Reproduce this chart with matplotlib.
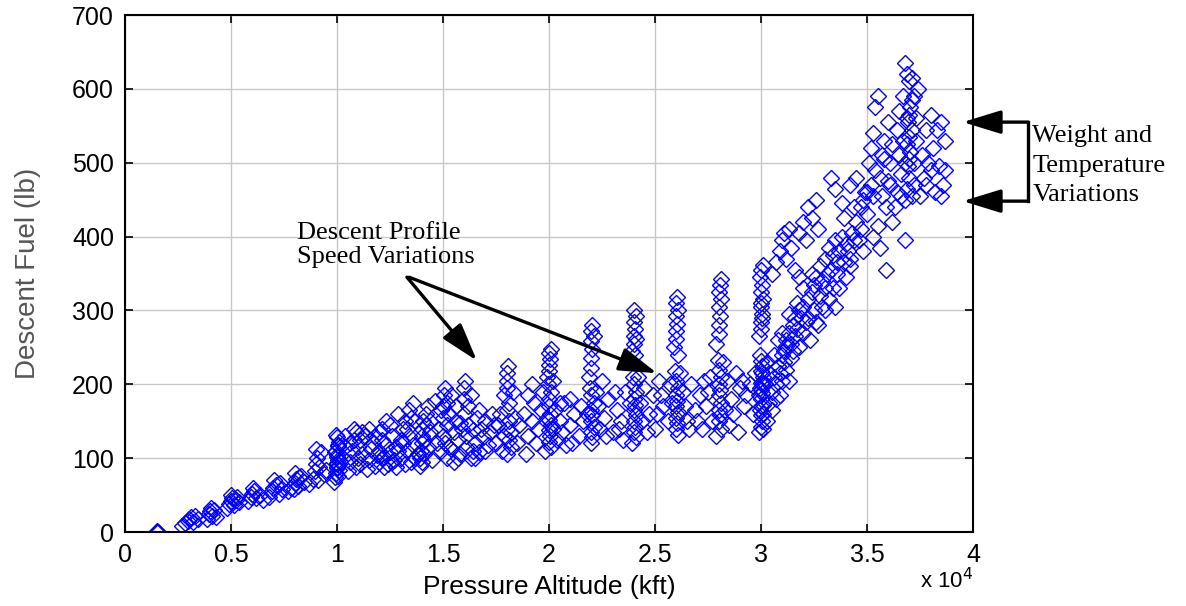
import numpy as np
import matplotlib
matplotlib.use("Agg")
import matplotlib.pyplot as plt

# (pressure altitude ft, descent fuel lb), by region
pts_low = [
    (1500, 0), (1500, 0), (1550, 0), (1500, 1),
    (2700, 8), (2850, 12), (2950, 15), (3000, 18), (3100, 20), (3200, 14), (3300, 22), (3450, 17),
    (3850, 18), (3950, 24), (4000, 28), (4100, 22), (4200, 30), (4300, 20), (4050, 32),
    (4800, 32), (4900, 38), (5000, 42), (5050, 46), (5150, 36), (5250, 44), (5400, 40), (5000, 50), (5300, 48),
    (5800, 42), (5950, 48), (6000, 52), (6100, 56), (6200, 46), (6350, 50), (6500, 44), (6050, 60),
    (6800, 48), (6950, 55), (7000, 60), (7100, 64), (7250, 52), (7400, 58), (7050, 70), (7300, 66),
    (7700, 55), (7850, 60), (8000, 66), (8050, 72), (8150, 62), (8300, 76), (8450, 68), (8000, 80), (7950, 58), (8200, 74),
    (8700, 65), (8850, 72), (8950, 82), (9000, 92), (9050, 100), (9150, 88), (9250, 108), (9400, 78), (9500, 84), (9000, 112), (9100, 70),
    (9850, 68), (9900, 74), (9950, 80), (10000, 86), (10000, 92), (10050, 98), (10000, 104), (9950, 110),
    (10050, 116), (10100, 122), (10000, 128), (9950, 132), (10050, 76), (10000, 88), (10150, 96), (10000, 102),
    (9900, 108), (10050, 118), (10100, 84), (10000, 94),
]

pts_mid = [
    (10500, 82), (10600, 95), (10700, 110), (10800, 125), (10900, 88), (11000, 100), (11000, 115), (11100, 92),
    (11200, 105), (11300, 130), (11400, 85), (11500, 98), (11600, 112), (11700, 120), (11800, 90), (11900, 104),
    (10800, 140), (11200, 135),
    (12000, 95), (12000, 110), (12100, 125), (12100, 140), (12200, 88), (12200, 102), (12300, 118), (12300, 150),
    (12400, 92), (12500, 108), (12600, 130), (12700, 98), (12800, 115), (12900, 160), (12000, 135), (12500, 145), (12800, 88),
    (13000, 100), (13100, 120), (13100, 140), (13200, 92), (13300, 110), (13400, 165), (13400, 130), (13500, 95),
    (13600, 118), (13700, 150), (13800, 105), (13900, 90), (13900, 100), (13950, 110), (14000, 120), (14000, 130),
    (14000, 140), (14050, 150), (14000, 95), (14100, 105), (14100, 125), (14200, 160), (14300, 115), (14400, 135),
    (14500, 98), (14600, 178), (14700, 120), (13600, 175), (14200, 145),
    (14900, 110), (15000, 130), (15000, 155), (15000, 170), (15050, 185), (15100, 195), (15100, 120), (15200, 100),
    (15200, 145), (15300, 160), (15400, 113), (15500, 135), (15500, 95), (15600, 150), (15700, 125), (15800, 105),
    (15900, 140), (16000, 180), (16000, 195), (16050, 205), (16000, 160), (16100, 130), (16100, 115), (16200, 145),
    (16300, 100), (16400, 138), (16500, 120), (16600, 155), (16700, 108), (16800, 140), (16900, 128), (17000, 150),
    (17100, 118), (17200, 135), (15300, 115), (15800, 148), (16500, 100),
    (10300, 100), (10400, 115), (10400, 130), (10600, 120), (10900, 135), (11100, 125), (11500, 140), (11800, 130),
    (12100, 100), (12600, 95), (12900, 110), (13000, 125), (13200, 150), (13300, 140), (13500, 155), (13700, 100),
    (14300, 170), (14400, 150), (14800, 140), (14900, 165), (15200, 175), (15400, 185), (15600, 170), (15700, 100),
    (16200, 170), (16300, 185), (16400, 110), (16700, 165), (17000, 110), (17300, 160), (17400, 145),
]

pts_18k = [
    (17500, 120), (17600, 145), (17700, 160), (17800, 110), (17900, 130), (17900, 185), (18000, 195), (18000, 205),
    (18000, 215), (18050, 225), (18100, 175), (18000, 165), (18100, 150), (18000, 140), (18100, 125), (18200, 115),
    (18000, 105), (18200, 135), (18300, 190), (18400, 155), (18500, 120), (18600, 145), (18800, 160), (19000, 130),
    (19200, 150), (19400, 120), (19500, 140), (19600, 165), (19800, 110), (19300, 175), (18900, 105),
    (19000, 185), (19200, 200), (19700, 190),
]

pts_20k = [
    (19900, 210), (20000, 218), (20000, 226), (20050, 234), (20000, 242), (20100, 248), (19950, 200), (20100, 190),
    (20000, 180), (20000, 170), (20050, 160), (20000, 152), (20100, 145), (20000, 138), (20050, 130), (20000, 122),
    (20100, 115), (19900, 155), (20200, 140), (20300, 165), (20400, 125), (20500, 150), (20600, 135), (20700, 175),
    (20800, 118), (21000, 145), (21200, 160), (21400, 130), (21000, 180),
    (20200, 205), (20500, 175), (21100, 120), (21500, 170), (21600, 150),
]

pts_22k = [
    (21900, 210), (22000, 222), (22000, 235), (22050, 248), (22000, 258), (22100, 265), (22000, 272), (22050, 280),
    (21950, 195), (22000, 185), (22100, 175), (22000, 165), (22050, 158), (22000, 150), (22100, 142), (22000, 135),
    (22050, 128), (22000, 120), (21800, 160), (22300, 170), (22400, 140), (22600, 155), (22800, 180), (23000, 135),
    (23200, 165), (23400, 150), (23600, 190), (23500, 125),
    (22200, 190), (22500, 205), (22700, 130), (23100, 190), (23300, 140), (23800, 175),
]

pts_24k = [
    (23900, 245), (24000, 255), (24000, 265), (24050, 275), (24000, 285), (24100, 292), (24000, 300), (24050, 240),
    (24100, 262), (23950, 210), (24000, 200), (24100, 190), (24000, 180), (24050, 172), (24000, 165), (24100, 158),
    (24000, 150), (24050, 142), (24000, 135), (24100, 128), (23900, 120), (24300, 175), (24500, 195), (24700, 160),
    (24900, 185), (25200, 205), (25000, 140), (25400, 170),
    (24200, 210), (24400, 150), (24600, 135), (25100, 160), (25300, 185), (25600, 150), (25700, 200),
]

pts_26k = [
    (25900, 250), (26000, 262), (26000, 272), (26050, 282), (26000, 292), (26100, 300), (26000, 310), (26050, 318),
    (26100, 240), (25950, 218), (26000, 205), (26100, 195), (26000, 185), (26050, 178), (26000, 170), (26100, 162),
    (26000, 155), (26050, 148), (26000, 140), (26100, 132), (25800, 175), (26300, 190), (26500, 150), (26700, 200),
    (26900, 165), (27100, 185), (27300, 205), (27200, 140),
    (26200, 215), (26400, 170), (26600, 140), (27000, 150), (27400, 170), (27500, 190), (27700, 150),
]

pts_28k = [
    (27900, 255), (28000, 268), (28000, 280), (28050, 292), (28000, 305), (28100, 315), (28000, 325), (28050, 335),
    (28100, 342), (27950, 233), (28000, 220), (28100, 210), (28000, 200), (28050, 192), (28000, 185), (28100, 175),
    (28000, 165), (28050, 158), (28000, 150), (28100, 140), (27900, 130), (27600, 210), (28400, 205), (28600, 180),
    (28800, 215), (29000, 195), (29200, 170), (28500, 145),
    (28200, 230), (28300, 165), (28700, 160), (28900, 135), (29100, 205), (29300, 185), (29500, 200),
    (29600, 160), (29700, 215),
]

pts_30k = [
    (29900, 265), (30000, 275), (30000, 285), (30050, 295), (30000, 305), (30100, 315), (30000, 325), (30050, 335),
    (29950, 345), (30000, 355), (30100, 362), (30050, 290), (30000, 310),
    (29900, 135), (30000, 142), (30050, 150), (30000, 158), (29950, 165), (30100, 172), (30000, 180), (30050, 188),
    (29950, 195), (30000, 202), (30100, 210), (30000, 218), (30050, 225), (30000, 232), (29950, 240), (30100, 160),
    (30000, 170), (30050, 200), (30100, 140), (29900, 185), (30000, 192), (30050, 215),
]

pts_32k = [
    (30300, 150), (30400, 175), (30500, 190), (30600, 210), (30700, 200), (30800, 225), (30900, 215), (31000, 240),
    (31100, 230), (31200, 252), (30500, 165), (30900, 185), (31300, 205),
    (31100, 245), (31200, 260), (31300, 270), (31400, 255), (31500, 280), (31600, 265), (31700, 275), (31800, 250),
    (31900, 290), (32000, 270), (32100, 285), (31500, 245), (31800, 300), (32300, 260), (32500, 300), (32700, 280),
    (32900, 305), (31000, 270), (31300, 295),
    (30500, 350), (30700, 365), (30900, 380), (31000, 395), (31100, 405), (31200, 370), (31400, 385), (31600, 355),
    (31800, 345), (31300, 410),
    (32200, 315), (32400, 325), (32500, 335), (32600, 345), (32800, 320), (32900, 340), (33000, 330), (33100, 350),
    (33200, 315), (33500, 305), (33700, 330), (34000, 345), (34200, 360), (32800, 360), (32000, 330),
    (31800, 405), (32000, 420), (32200, 440), (32400, 425), (32600, 450), (32700, 410), (32100, 395),
    (30200, 200), (30300, 230), (30400, 215), (30600, 240), (30700, 180), (30800, 260), (31000, 205), (31200, 220),
    (31400, 235), (31600, 290), (31700, 310), (32000, 305), (32200, 290), (32400, 350), (32600, 285), (33000, 300),
]

pts_34k = [
    (33000, 370), (33200, 385), (33400, 375), (33500, 395), (33700, 380), (33800, 400), (34000, 390), (34200, 370),
    (34300, 405), (33600, 365), (34500, 420), (34700, 440), (34900, 460), (33300, 480), (33500, 465), (33800, 445),
    (34200, 470), (34600, 395), (34800, 380), (33900, 425),
    (34500, 480), (34800, 450), (35000, 430), (35200, 470), (35400, 490), (35500, 415), (35700, 455), (35900, 440),
    (36000, 475), (36200, 420), (36400, 460), (36600, 485), (35300, 400), (35600, 385), (35900, 355), (36800, 395),
    (33300, 355), (33400, 330), (33600, 350), (33900, 365), (34100, 380), (34400, 395), (34400, 440), (34700, 410),
]

pts_37k = [
    (35200, 520), (35300, 540), (35400, 575), (35500, 590), (35700, 510), (35800, 530), (36000, 555), (36100, 500),
    (36200, 525), (36400, 545), (36500, 570), (36700, 590), (36900, 560),
    (36800, 450), (36900, 465), (37000, 480), (36950, 495), (37000, 505), (37050, 515), (36900, 525), (37000, 535),
    (37100, 545), (36950, 555), (37000, 565), (37050, 575), (37100, 585), (37200, 470), (37200, 500), (37300, 530),
    (37000, 610), (36900, 620), (37100, 615), (36800, 635),
    (37500, 455), (37700, 480), (37900, 500), (38100, 520), (38300, 545), (38500, 555), (38700, 530), (38400, 495),
    (38600, 470), (38200, 460), (37800, 545), (38000, 565), (38700, 490), (38500, 455),
    (35000, 460), (35100, 500), (35300, 455), (35600, 480), (35800, 505), (36100, 470), (36300, 440), (36500, 510),
    (36600, 455), (36700, 530), (36800, 500), (37100, 455), (37300, 560), (37400, 600), (37200, 590), (37600, 510),
    (37800, 470), (38000, 490),
]

all_pts = (pts_low + pts_mid + pts_18k + pts_20k + pts_22k + pts_24k + pts_26k
           + pts_28k + pts_30k + pts_32k + pts_34k + pts_37k)
alt = np.array([p[0] for p in all_pts])
fuel = np.array([p[1] for p in all_pts])

x_ticks = [0, 5000, 10000, 15000, 20000, 25000, 30000, 35000, 40000]
x_labels = ["0", "0.5", "1", "1.5", "2", "2.5", "3", "3.5", "4"]
y_ticks = [0, 100, 200, 300, 400, 500, 600, 700]

plt.rcParams['font.family'] = ['Liberation Sans', 'DejaVu Sans']

fig = plt.figure(figsize=(11.86, 6.06), dpi=100)
ax = fig.add_axes([0.1054, 0.1221, 0.7150, 0.8531])

ax.plot(alt, fuel, linestyle='none', marker='D', markersize=8,
        markerfacecolor='none', markeredgecolor='#0000ff', markeredgewidth=1.0)

ax.set_xlim(0, 40000)
ax.set_ylim(0, 700)
ax.set_xticks(x_ticks)
ax.set_xticklabels(x_labels)
ax.set_yticks(y_ticks)
ax.grid(True, color='#c8c8c8', linewidth=1.0)
ax.set_axisbelow(True)
ax.tick_params(direction='in', top=True, right=True, length=6, width=1.2,
               labelsize=18, pad=8)
for sp in ax.spines.values():
    sp.set_linewidth(1.5)

ax.set_xlabel("Pressure Altitude (kft)", fontsize=19, labelpad=6)
ax.set_ylabel("Descent Fuel (lb)", fontsize=20, color='#555555', labelpad=22)
ax.text(1.0, -0.07, r"x 10$^4$", transform=ax.transAxes, ha='right', va='top', fontsize=16)

serif = ['Liberation Serif', 'DejaVu Serif']
ax.text(8100, 389, "Descent Profile\nSpeed Variations", family=serif, fontsize=19,
        ha='left', va='center', linespacing=1.1)
arrow = dict(arrowstyle='-|>,head_length=1.3,head_width=0.4', color='k', lw=2.4,
             shrinkA=0, shrinkB=0, mutation_scale=18)
ax.annotate("", xy=(16600, 232), xytext=(13300, 345), arrowprops=arrow)
ax.annotate("", xy=(25100, 215), xytext=(13400, 345), arrowprops=arrow)

# bracket on the right, outside the axes
bc = ('axes fraction', 'data')
ax.annotate("", xy=(0.988, 555), xytext=(1.065, 555), xycoords=bc, textcoords=bc,
            arrowprops=arrow, annotation_clip=False)
ax.annotate("", xy=(0.988, 448), xytext=(1.065, 448), xycoords=bc, textcoords=bc,
            arrowprops=arrow, annotation_clip=False)
ax.plot([1.065, 1.065], [555, 448], color='k', lw=2.4, clip_on=False,
        transform=ax.get_yaxis_transform())
ax.text(1.07, 496, "Weight and\nTemperature\nVariations", transform=ax.get_yaxis_transform(),
        family=serif, fontsize=19, ha='left', va='center', linespacing=1.45)

fig.savefig("out.png", dpi=100)
